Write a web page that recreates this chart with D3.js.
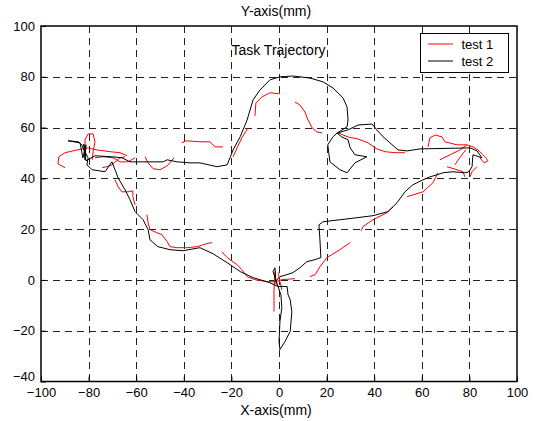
<!DOCTYPE html>
<html>
<head>
<meta charset="utf-8">
<script src="https://cdn.jsdelivr.net/npm/d3@7"></script>
<style>
  body { margin: 0; background: #fff; }
  svg { display: block; font-family: "Liberation Sans", Arial, sans-serif; }
</style>
</head>
<body>
<div id="chart"></div>
<script>
// Axis ticks
const xTicks = [-100, -80, -60, -40, -20, 0, 20, 40, 60, 80, 100];
const yTicks = [-40, -20, 0, 20, 40, 60, 80, 100];

// test 2 (black) - one continuous trajectory, [x mm, y mm]
const test2 = [
  [-1.2,-1.8],[-1.7,4.8],[-2.5,3.3],[-0.4,-2.6],[3.4,-2.6],[3.8,-5.8],[4.7,-7.8],[5.4,-12.5],
  [4.7,-20.3],[2.5,-24.3],[0.4,-27.4],[0.0,-24.3],[0.4,-16.4],[1.2,-10.9],[0.8,-5.8],[-0.4,-2.6],
  [-3.8,-1.1],[-10.9,0.9],[-16.3,3.3],[-21.8,6.8],[-27.7,10.3],[-33.2,12.7],[-40.4,11.5],
  [-45.8,11.9],[-50.9,13.1],[-54.2,15.8],[-55.0,19.8],[-57.1,23.7],[-60.5,26.9],[-62.6,31.6],
  [-64.7,35.5],[-67.6,40.2],[-68.9,43.4],[-70.2,46.5],[-73.1,42.6],[-78.5,43.4],[-80.7,45.3],
  [-80.2,48.1],[-82.0,51.2],[-82.8,53.2],[-84.4,54.4],[-88.6,54.8],[-83.6,54.0],[-82.4,48.1],
  [-81.1,53.2],[-81.5,47.3],[-82.0,53.5],[-81.1,46.9],[-77.3,48.9],[-70.2,48.5],[-66.0,48.1],
  [-62.6,46.5],[-56.3,46.5],[-48.7,46.5],[-47.0,47.3],[-42.8,46.5],[-37.4,46.1],[-33.2,46.1],
  [-26.1,44.6],[-21.8,45.3],[-20.6,48.1],[-19.3,51.2],[-16.3,56.4],[-13.4,63.0],[-10.9,70.9],
  [-8.0,74.8],[-3.8,78.8],[0.4,80.0],[5.9,80.3],[13.0,79.5],[18.5,78.0],[22.7,75.6],[26.9,71.7],
  [28.6,68.1],[29.0,63.0],[28.6,60.3],[24.4,57.8],[26.4,56.3],[29.0,55.2],[29.9,52.0],
  [31.9,49.3],[36.9,48.5],[31.9,46.1],[28.6,42.2],[25.6,43.4],[21.4,46.5],[20.5,53.2],
  [22.7,56.4],[24.4,57.8],[29.0,59.1],[33.2,61.0],[39.1,61.4],[41.1,59.1],[43.7,56.4],
  [46.6,54.0],[50.0,51.2],[53.8,50.8],[59.2,51.6],[80.3,52.0],[83.2,50.8],[85.3,48.1],
  [82.7,48.9],[81.5,49.3],[81.1,44.6],[79.8,42.6],[78.1,42.2],[73.1,42.6],[68.9,42.2],
  [66.4,41.4],[63.4,40.6],[60.5,39.4],[56.3,37.5],[52.9,34.7],[49.6,30.4],[45.8,26.9],
  [39.5,25.3],[32.8,24.5],[25.6,23.7],[18.5,22.9],[16.8,21.7],[17.2,15.8],[17.6,8.8],
  [15.2,8.0],[11.7,7.2],[8.8,4.8],[5.9,2.9],[3.4,2.1],[0.4,1.3],[-1.2,-0.3]
];

// test 1 (red) - broken into separate pieces
const test1 = [
  [[-89.9,44.2],[-92.9,45.7],[-92.5,48.5],[-89.9,50.1],[-84.9,51.2],[-80.2,52.0],[-76.5,51.2],[-71.0,50.5],[-66.8,50.1],[-63.8,48.9]],
  [[-81.5,51.2],[-81.5,55.2],[-80.2,57.5],[-78.1,57.5],[-77.3,54.4],[-78.1,50.5],[-78.5,47.3]],
  [[-74.3,44.2],[-72.3,44.6],[-70.2,45.3],[-66.8,48.1],[-64.7,48.5]],
  [[-77.3,48.1],[-73.9,48.5],[-69.7,48.1],[-66.8,46.5],[-63.4,46.5],[-60.5,48.1]],
  [[-56.3,48.5],[-55.0,46.1],[-52.9,43.8],[-50.0,43.4],[-47.0,44.9],[-44.1,48.1]],
  [[-40.8,54.0],[-39.1,54.8],[-33.2,54.4],[-29.0,54.4],[-26.9,52.4],[-23.5,52.4]],
  [[-10.1,64.6],[-9.7,69.7],[-7.1,72.1],[-3.8,73.7],[0.4,73.3]],
  [[6.7,70.1],[8.8,68.9],[10.9,66.1],[12.2,63.0],[13.9,59.9],[15.9,58.3],[18.1,57.9]],
  [[-13.0,59.9],[-15.6,56.0],[-17.6,52.0],[-19.3,48.5]],
  [[24.8,57.9],[29.0,56.3],[33.2,55.5],[37.4,54.0],[41.1,51.6],[44.6,50.5],[48.7,50.1],[52.9,50.1]],
  [[62.6,52.4],[63.4,55.9],[65.6,57.1],[68.5,56.3],[69.7,54.4],[74.8,53.2],[79.0,53.2],[81.5,52.4],[83.6,51.2],[86.6,48.5],[87.8,46.9],[86.2,46.1],[84.4,48.1]],
  [[67.6,47.3],[71.9,49.3],[76.1,51.2],[79.0,53.2]],
  [[70.6,44.6],[74.8,43.4],[77.3,42.6],[78.1,40.6]],
  [[80.3,40.6],[81.1,42.6],[83.2,44.6]],
  [[73.9,45.3],[76.2,48.5],[78.5,51.2]],
  [[66.8,42.2],[64.7,38.3],[60.5,34.7],[56.3,33.5],[53.8,32.8]],
  [[47.9,28.8],[45.4,26.5],[39.5,23.7],[35.3,21.0],[34.5,19.4]],
  [[29.9,14.7],[25.6,11.9],[20.2,8.8],[17.2,5.2],[15.2,2.1],[13.0,1.3]],
  [[-24.0,11.1],[-21.8,8.8],[-17.6,6.0],[-15.6,4.0],[-13.4,1.3],[-10.1,0.1],[-4.7,-0.7],[-1.7,-0.7],[1.2,0.1],[6.7,0.5]],
  [[-1.7,3.3],[-2.1,-3.9],[-2.1,-12.5]],
  [[-0.4,2.9],[0.4,-0.7],[1.2,-3.9]],
  [[-68.9,39.4],[-67.6,36.7],[-66.0,34.7],[-63.4,34.7],[-61.4,35.1],[-61.4,32.8],[-60.5,29.6]],
  [[-55.5,25.7],[-55.0,22.5],[-54.2,19.8],[-51.3,18.6],[-49.2,17.8],[-47.0,15.1],[-45.8,13.1],[-42.8,12.7],[-38.6,12.7],[-34.5,13.1],[-30.3,14.3],[-28.1,14.7]]
];

const width = 533, height = 421;
const plotLeft = 41, plotRight = 517, plotTop = 26, plotBottom = 381.5;

const svg = d3.select('#chart').append('svg')
    .attr('width', width)
    .attr('height', height);

const x = d3.scaleLinear().domain([-100, 100]).range([plotLeft, plotRight]);
const y = d3.scaleLinear().domain([-40, 100]).range([plotBottom, plotTop]);

// dashed grid
svg.append('g')
  .selectAll('line')
  .data(xTicks.slice(1, -1))
  .join('line')
    .attr('x1', d => Math.round(x(d)) + 0.5)
    .attr('x2', d => Math.round(x(d)) + 0.5)
    .attr('y1', plotTop)
    .attr('y2', plotBottom)
    .attr('stroke', '#222')
    .attr('stroke-dasharray', '7,5');

svg.append('g')
  .selectAll('line')
  .data(yTicks.slice(1, -1))
  .join('line')
    .attr('x1', plotLeft)
    .attr('x2', plotRight)
    .attr('y1', d => Math.round(y(d)) + 0.5)
    .attr('y2', d => Math.round(y(d)) + 0.5)
    .attr('stroke', '#222')
    .attr('stroke-dasharray', '7,5');

// axes, ticks pointing inward
svg.append('g')
    .attr('transform', `translate(0,${plotBottom})`)
    .call(d3.axisBottom(x).tickValues(xTicks).tickSizeInner(-5).tickSizeOuter(0).tickPadding(6))
    .call(g => g.select('.domain').remove());

svg.append('g')
    .attr('transform', `translate(${plotLeft},0)`)
    .call(d3.axisLeft(y).tickValues(yTicks).tickSizeInner(-5).tickSizeOuter(0).tickPadding(6))
    .call(g => g.select('.domain').remove())
    .call(g => g.selectAll('.tick text').filter(d => d === -40).attr('dy', '-0.05em'));

svg.selectAll('.tick text')
    .attr('font-size', 13)
    .attr('font-family', '"Liberation Sans", Arial, sans-serif')
    .attr('fill', '#000');

// box
svg.append('rect')
    .attr('x', plotLeft)
    .attr('y', plotTop)
    .attr('width', plotRight - plotLeft)
    .attr('height', plotBottom - plotTop)
    .attr('fill', 'none')
    .attr('stroke', '#000')
    .attr('stroke-width', 1.5);

const line = d3.line().x(d => x(d[0])).y(d => y(d[1]));

// red pieces first, black over them
svg.append('g')
  .selectAll('path')
  .data(test1)
  .join('path')
    .attr('d', line)
    .attr('fill', 'none')
    .attr('stroke', '#ff0000')
    .attr('stroke-width', 1);

svg.append('path')
    .datum(test2)
    .attr('d', line)
    .attr('fill', 'none')
    .attr('stroke', '#000')
    .attr('stroke-width', 1);

// titles
svg.append('text')
    .attr('x', 276)
    .attr('y', 16)
    .attr('text-anchor', 'middle')
    .attr('font-size', 14)
    .text('Y-axis(mm)');

svg.append('text')
    .attr('x', 276)
    .attr('y', 415)
    .attr('text-anchor', 'middle')
    .attr('font-size', 14)
    .text('X-axis(mm)');

svg.append('text')
    .attr('x', 278.5)
    .attr('y', 55)
    .attr('text-anchor', 'middle')
    .attr('font-size', 14)
    .text('Task Trajectory');

// legend
const legend = svg.append('g').attr('transform', 'translate(420.5,33.5)');
legend.append('rect')
    .attr('width', 88)
    .attr('height', 39)
    .attr('fill', '#fff')
    .attr('stroke', '#000');

const series = [{name: 'test 1', color: '#ff0000'}, {name: 'test 2', color: '#000'}];
legend.selectAll('line')
  .data(series)
  .join('line')
    .attr('x1', 7.5)
    .attr('x2', 32.5)
    .attr('y1', (d, i) => 10.5 + i * 17)
    .attr('y2', (d, i) => 10.5 + i * 17)
    .attr('stroke', d => d.color);

legend.selectAll('text')
  .data(series)
  .join('text')
    .attr('x', 41)
    .attr('y', (d, i) => 15 + i * 17)
    .attr('font-size', 13)
    .text(d => d.name);
</script>
</body>
</html>
